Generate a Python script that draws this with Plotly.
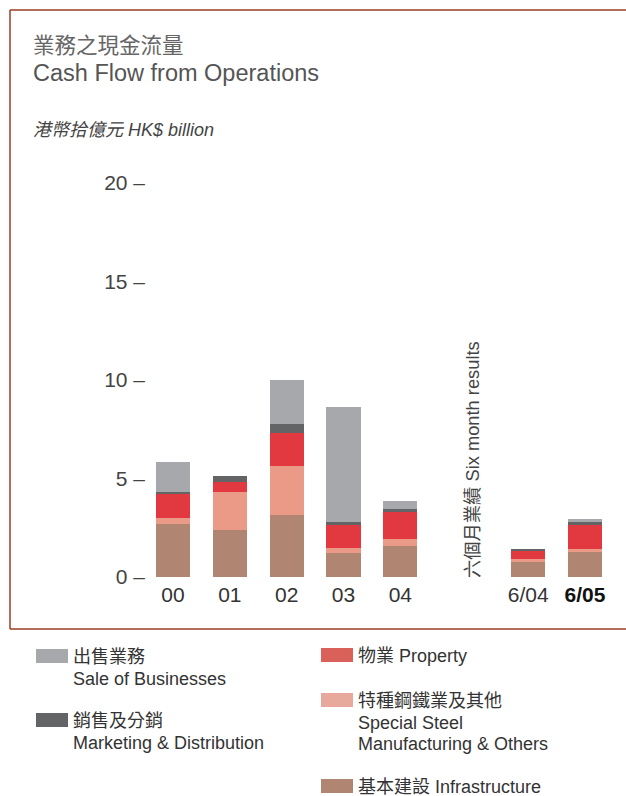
import plotly.graph_objects as go

categories = ["00", "01", "02", "03", "04", "6/04", "6/05"]
infrastructure = [2.69, 2.39, 3.15, 1.22, 1.57, 0.76, 1.27]
special_steel = [0.30, 1.93, 2.49, 0.25, 0.36, 0.15, 0.15]
property_ = [1.25, 0.51, 1.68, 1.17, 1.42, 0.41, 1.27]
marketing = [0.07, 0.30, 0.46, 0.15, 0.10, 0.10, 0.10]
sale_of_businesses = [1.52, 0.0, 2.23, 5.84, 0.41, 0.0, 0.15]
y_ticks = [0, 5, 10, 15, 20]

series = [
    ("基本建設 Infrastructure", infrastructure, "#B08672", "#B08672"),
    ("特種鋼鐵業及其他 Special Steel Manufacturing & Others", special_steel, "#EC9A88", "#E8A89C"),
    ("物業 Property", property_, "#E1393F", "#D9615A"),
    ("銷售及分銷 Marketing & Distribution", marketing, "#636466", "#636466"),
    ("出售業務 Sale of Businesses", sale_of_businesses, "#A7A8AB", "#A7A8AB"),
]

# annual bars at 0..4, six-month bars after a gap
xpos = [i if i < 5 else i + 1.25 for i in range(len(categories))]
ticktext = [c for c in categories[:-1]] + ["<b><span style='color:#111'>%s</span></b>" % categories[-1]]
ytext = ["%d –" % v for v in y_ticks]

FONT = "Liberation Sans, Arial, Noto Sans CJK TC, sans-serif"
CJK = "Noto Sans CJK TC, Liberation Sans, sans-serif"

fig = go.Figure()
for name, vals, col, _ in series:
    fig.add_trace(go.Bar(x=xpos, y=vals, name=name, marker=dict(color=col, line=dict(width=0)),
                         width=0.6, showlegend=False))

W, H = 626, 796
L, R, T, B = 148, 16, 173, 219
PW, PH = W - L - R, H - T - B


def px(x):
    return (x - L) / PW


def py(y):
    return (H - B - y) / PH


shapes = []
frame_col = "#9B3B25"
for (x0, y0, x1, y1) in [(10, 10, 626, 10), (10, 10, 10, 629), (10, 629, 626, 629)]:
    shapes.append(dict(type="line", xref="paper", yref="paper", x0=px(x0), y0=py(y0), x1=px(x1), y1=py(y1),
                       line=dict(color=frame_col, width=1.5)))

annotations = []


def text(x, y, s, size, color, font=FONT, anchor="left"):
    annotations.append(dict(xref="paper", yref="paper", x=px(x), y=py(y), text=s, showarrow=False,
                            xanchor=anchor, yanchor="middle", font=dict(size=size, color=color, family=font)))


text(31, 44, "業務之現金流量", 21.5, "#666666", CJK)
text(31, 73, "Cash Flow from Operations", 23.5, "#555555")
text(31, 130, "<i>港幣拾億元 HK$ billion</i>", 18, "#444444")

# vertical label for six-month results
annotations.append(dict(xref="paper", yref="paper", x=px(472), y=py(460), text="六個月業績 Six month results",
                        showarrow=False, textangle=-90, xanchor="center", yanchor="middle",
                        font=dict(size=18.3, color="#444444", family=FONT)))

# custom legend
leg = [
    (36, 656, series[4][3], ["出售業務", "Sale of Businesses"]),
    (36, 720, series[3][3], ["銷售及分銷", "Marketing & Distribution"]),
    (321, 655, series[2][3], ["物業 Property"]),
    (321, 700, series[1][3], ["特種鋼鐵業及其他", "Special Steel", "Manufacturing & Others"]),
    (321, 786, series[0][3], ["基本建設 Infrastructure"]),
]
for x, y, col, lines in leg:
    shapes.append(dict(type="rect", xref="paper", yref="paper", x0=px(x), x1=px(x + 32), y0=py(y - 7), y1=py(y + 7),
                       fillcolor=col, line=dict(width=0)))
    for k, ln in enumerate(lines):
        text(x + 35, y + 1 + k * 21.5, ln, 18, "#333333")

fig.update_layout(
    width=W, height=H, margin=dict(l=L, r=R, t=T, b=B),
    barmode="stack", bargap=0,
    paper_bgcolor="white", plot_bgcolor="white",
    font=dict(family=FONT, color="#333333"),
    xaxis=dict(range=[-0.44, 7.69], tickvals=xpos, ticktext=ticktext, showgrid=False, zeroline=False,
               showline=False, ticks="", tickfont=dict(size=21, color="#333333"), ticklabelstandoff=3,
               fixedrange=True),
    yaxis=dict(range=[0, 20.51], tickvals=y_ticks, ticktext=ytext, showgrid=False, zeroline=False,
               showline=False, ticks="", tickfont=dict(size=21, color="#444444"), ticklabelstandoff=2,
               fixedrange=True),
    shapes=shapes, annotations=annotations, showlegend=False,
)

fig.write_html("out.html")
